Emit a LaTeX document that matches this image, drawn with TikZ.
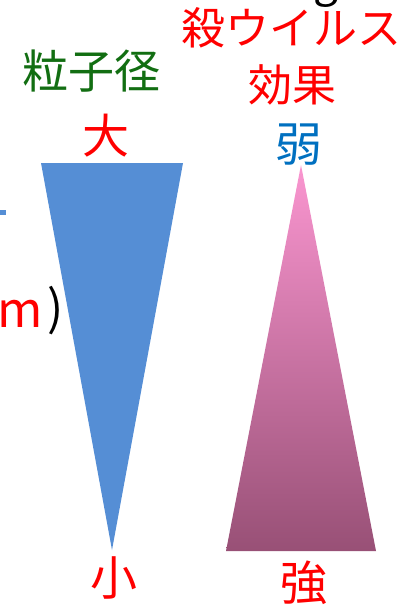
\documentclass[tikz,border=0pt]{standalone}
\usepackage{fontspec}
\newfontfamily\jp{Noto Sans CJK JP}
\definecolor{jred}{RGB}{255,0,0}
\definecolor{jgreen}{RGB}{18,110,18}
\definecolor{jblue}{RGB}{0,112,192}
\definecolor{tblue}{RGB}{85,142,213}
\definecolor{ptop}{RGB}{250,150,208}
\definecolor{pbot}{RGB}{152,80,118}
\tikzset{
  lab/.style={inner sep=0pt, font=\jp\fontsize{44}{44}\selectfont, anchor=center},
  big/.style={lab, font=\jp\fontsize{47}{47}\selectfont},
}
\begin{document}
\begin{tikzpicture}[x=1pt,y=-1pt]
\useasboundingbox (0,0) rectangle (407,608);
\clip (0,0) rectangle (407,608);
% partial text fragments at the top
\node[inner sep=0pt, anchor=base, font=\jp\fontsize{44}{44}\selectfont] (gfrag) at (326,-4) {g};
\node[inner sep=0pt, anchor=base, font=\jp\fontsize{44}{44}\selectfont] (sfrag) at (257,-10) {/};
% partial text fragments at the left
\fill[tblue] (0,210) rectangle (6,215);
\node[inner sep=0pt, anchor=base east, text=jred, font=\jp\fontsize{49}{49}\selectfont] (mfrag) at (43,327) {m};
\node[inner sep=0pt, anchor=base west, font=\jp\fontsize{48}{48}\selectfont] (pfrag) at (47,325) {)};
% blue inverted triangle
\fill[tblue] (41,163) coordinate (bl) -- (183,163) coordinate (br) -- (112,550) coordinate (bapex) -- cycle;
% pink triangle with gradient
\shade[top color=ptop, bottom color=pbot] (301,165) coordinate (papex) -- (376,551) coordinate (pr) -- (226,551) coordinate (pl) -- cycle;
% labels
\node[lab, text=jgreen, font=\jp\fontsize{46}{46}\selectfont] (ryushi) at (92,71) {粒子径};
\node[big, text=jred] (dai) at (106,136) {大};
\node[big, text=jred] (sho) at (114,578) {小};
\node[lab, text=jred] (satsu) at (291,28) {殺ウイルス};
\node[lab, text=jred] (koka) at (292,85) {効果};
\node[big, text=jblue] (jaku) at (299,145) {弱};
\node[big, text=jred] (kyo) at (304,583) {強};
\end{tikzpicture}
\end{document}
